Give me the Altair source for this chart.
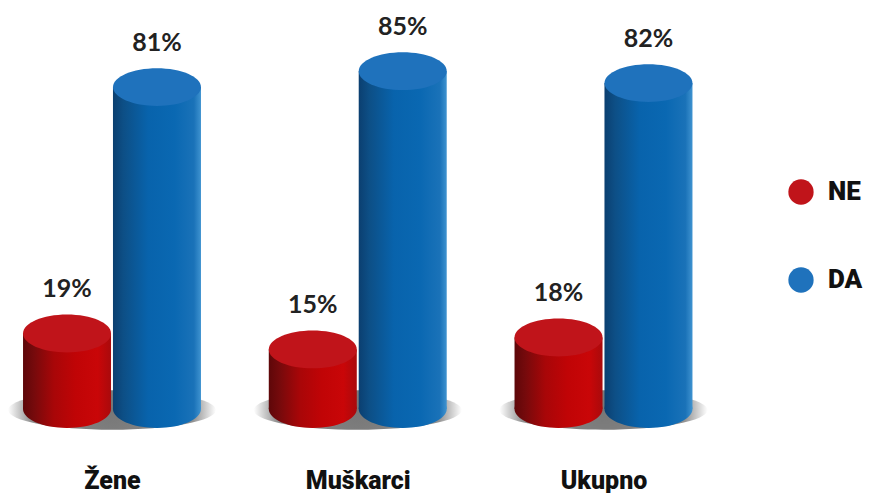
import altair as alt
import pandas as pd

categories = ["Žene", "Muškarci", "Ukupno"]
series = ["NE", "DA"]
ne_values = [19, 15, 18]
da_values = [81, 85, 82]

rows = []
for i, (c, n, d) in enumerate(zip(categories, ne_values, da_values)):
    rows.append({"idx": i, "cat": c, "serie": "NE", "val": n, "label": f"{n}%"})
    rows.append({"idx": i, "cat": c, "serie": "DA", "val": d, "label": f"{d}%"})
df = pd.DataFrame(rows)
cats_df = pd.DataFrame({"idx": range(len(categories)), "cat": categories})

HEAD = "Roboto"
ELLIPSE = "M-1,0A1,0.43,0,1,1,1,0A1,0.43,0,1,1,-1,0Z"
SHADOW = "M-1,0A1,0.19,0,1,1,1,0A1,0.19,0,1,1,-1,0Z"


def grad(stops):
    return alt.LinearGradient(
        gradient="linear", x1=0, x2=1, y1=0, y2=0,
        stops=[alt.GradientStop(offset=o, color=c) for o, c in stops],
    )


red = grad([(0, "#5e0709"), (0.12, "#750a0c"), (0.35, "#a80608"), (0.6, "#c00406"), (0.85, "#c90608"), (1, "#a90a0c")])
blue = grad([(0, "#0b3f70"), (0.12, "#0d4f86"), (0.4, "#0863ac"), (0.7, "#0a68b2"), (0.92, "#1a72b8"), (1, "#3f93d0")])
shadow = alt.RadialGradient(
    gradient="radial", r1=0, r2=0.5, x1=0.5, y1=0.5, x2=0.5, y2=0.5,
    stops=[alt.GradientStop(offset=0, color="#777777"),
           alt.GradientStop(offset=0.78, color="#8f8f8f"),
           alt.GradientStop(offset=1, color="#ffffff")],
)

label_expr = "[" + ",".join(f"'{c}'" for c in categories) + "][datum.value]"
x_scale = alt.Scale(domain=[0, 2], range=[104, 595.5], nice=False, zero=False, padding=0)
x_axis = alt.Axis(title=None, domain=False, ticks=False, grid=False, labelAngle=0,
                  values=[0, 1, 2], labelExpr=label_expr, labelFlush=False,
                  labelFont=HEAD, labelFontWeight=900, labelFontSize=25,
                  labelColor="#111111", labelPadding=59)
x = alt.X("pos:Q", scale=x_scale, axis=x_axis)
x_group = alt.X("idx:Q", scale=x_scale, axis=x_axis)
y_scale = alt.Scale(domain=[0, 100.9], nice=False)
y = alt.Y("val:Q", scale=y_scale, axis=None)
y_zero = alt.datum(0, scale=y_scale, axis=None)
pos_calc = "datum.idx + (datum.serie === 'NE' ? -0.183 : 0.183)"

shadows = alt.Chart(cats_df).mark_point(
    shape=SHADOW, size=208 ** 2, filled=True, fill=shadow, opacity=1, yOffset=1
).encode(x=x_group, y=y_zero)

layers = [shadows]
for s, g in zip(series, [red, blue]):
    base = alt.Chart(df[df.serie == s]).transform_calculate(pos=pos_calc)
    layers.append(
        base.mark_point(shape=ELLIPSE, size=88 ** 2, filled=True, fill=g, opacity=1)
        .encode(x=x, y=y_zero)
    )
    layers.append(
        base.mark_bar(size=88, fill=g).encode(x=x, y=y, y2=alt.datum(0))
    )

tops = alt.Chart(df).transform_calculate(pos=pos_calc).mark_point(
    shape=ELLIPSE, size=88 ** 2, filled=True, opacity=1
).encode(
    x=x, y=y,
    color=alt.Color(
        "serie:N",
        scale=alt.Scale(domain=series, range=["#c0141a", "#1f72bc"]),
        legend=alt.Legend(
            orient="none", legendX=780, legendY=171, title=None,
            symbolType="circle", symbolSize=640, symbolStrokeWidth=0,
            labelFont=HEAD, labelFontWeight=900, labelFontSize=26, labelColor="#111111",
            labelOffset=14, rowPadding=62,
        ),
    ),
)
labels = alt.Chart(df).transform_calculate(pos=pos_calc).mark_text(
    font="Lato", fontWeight="bold", fontSize=25, color="#222222", baseline="middle", dy=-44
).encode(x=x, y=y, text="label:N")

chart = (
    alt.layer(*layers, tops, labels)
    .properties(width=855, height=401,
                padding={"left": 0, "top": 0, "right": 0, "bottom": 84},
                autosize=alt.AutoSizeParams(type="none"),
                background="#ffffff")
    .configure_view(stroke=None)
)
chart.save("out.html", embed_options={"renderer": "svg", "actions": False})
